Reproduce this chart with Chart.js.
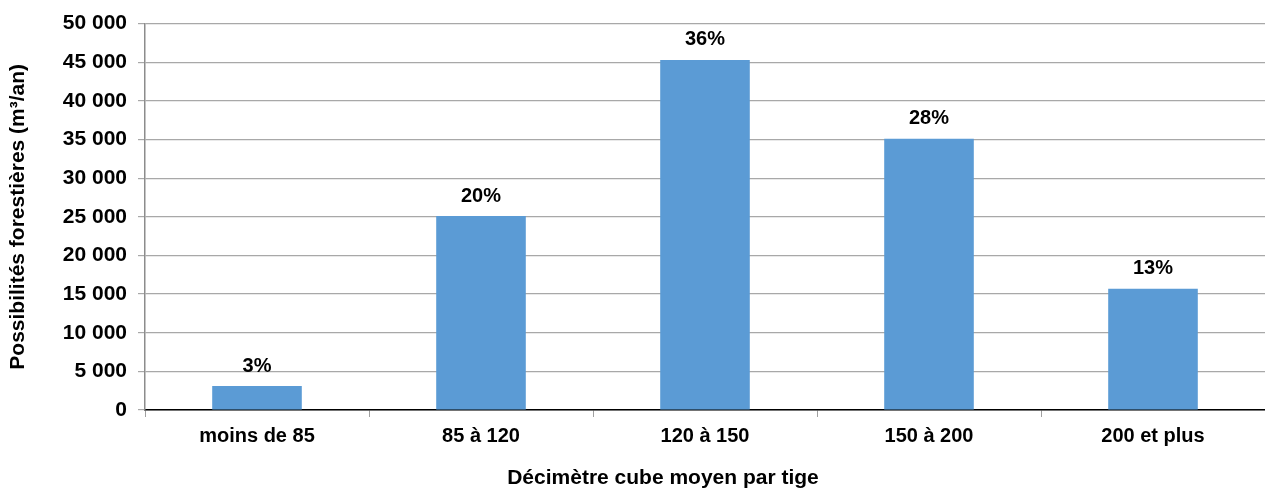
<!DOCTYPE html>
<html lang="fr">
<head>
<meta charset="utf-8">
<title>Possibilités forestières par classe de volume</title>
<script src="https://cdn.jsdelivr.net/npm/chart.js@4.4.1/dist/chart.umd.min.js"></script>
<style>
  html, body { margin: 0; padding: 0; background: #ffffff; }
  #wrap { width: 1265px; height: 489px; position: relative; }
</style>
</head>
<body>
<div id="wrap"><canvas id="chart"></canvas></div>
<script>
// Volume classes (dm³ per stem)
const categories = ['moins de 85', '85 à 120', '120 à 150', '150 à 200', '200 et plus'];
// Annual allowable cut (m³/an) per class
const possibilites = [3100, 25100, 45300, 35100, 15700];
// Share of the total shown above each bar
const parts = ['3%', '20%', '36%', '28%', '13%'];

const yTitle = 'Possibilités forestières (m³/an)';
const xTitle = 'Décimètre cube moyen par tige';

const FONT = '"Liberation Sans", Arial, Helvetica, sans-serif';

function formatThousands(v) {
  return String(v).replace(/\B(?=(\d{3})+(?!\d))/g, ' ');
}

// Percent labels above the bars and the x-axis title
const annotations = {
  id: 'annotations',
  afterDatasetsDraw(chart) {
    const ctx = chart.ctx;
    const meta = chart.getDatasetMeta(0);
    ctx.save();
    ctx.fillStyle = '#000000';
    ctx.font = 'bold 20px ' + FONT;
    ctx.textAlign = 'center';
    ctx.textBaseline = 'middle';
    meta.data.forEach((bar, i) => {
      ctx.fillText(parts[i], bar.x, bar.y - 20);
    });
    ctx.font = 'bold 21px ' + FONT;
    ctx.fillText(xTitle, 663, 478);
    ctx.restore();
  }
};

new Chart(document.getElementById('chart'), {
  type: 'bar',
  data: {
    labels: categories,
    datasets: [{
      data: possibilites,
      backgroundColor: '#5B9BD5',
      borderWidth: 0,
      barPercentage: 0.4,
      categoryPercentage: 1.0
    }]
  },
  options: {
    responsive: true,
    maintainAspectRatio: false,
    animation: false,
    layout: { padding: { top: 21, right: 0, bottom: 0, left: 0 } },
    plugins: {
      legend: { display: false },
      tooltip: { enabled: false }
    },
    scales: {
      x: {
        afterFit(scale) { scale.height = 79; },
        grid: {
          offset: true,
          drawOnChartArea: false,
          drawTicks: true,
          tickLength: 7,
          color: '#a0a0a0'
        },
        border: { display: true, color: '#000000', width: 1.5 },
        ticks: {
          color: '#000000',
          padding: 7,
          maxRotation: 0,
          font: { family: FONT, size: 20, weight: 'bold' }
        }
      },
      y: {
        min: 0,
        max: 50000,
        afterFit(scale) { scale.width = 145; },
        grid: {
          color: '#a8a8a8',
          lineWidth: 1.2,
          drawTicks: true,
          tickLength: 7
        },
        border: { display: true, color: '#8c8c8c', width: 1.5 },
        ticks: {
          stepSize: 5000,
          color: '#000000',
          padding: 11,
          font: { family: FONT, size: 21, weight: 'bold' },
          callback: (v) => formatThousands(v)
        },
        title: {
          display: true,
          text: yTitle,
          color: '#000000',
          padding: { top: 6, bottom: 0 },
          font: { family: FONT, size: 21, weight: 'bold' }
        }
      }
    }
  },
  plugins: [annotations]
});
</script>
</body>
</html>
